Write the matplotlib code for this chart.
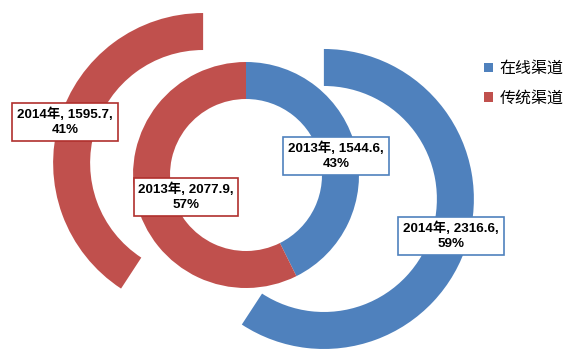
import matplotlib
matplotlib.use("Agg")
import matplotlib.pyplot as plt
from matplotlib.patches import Patch

plt.rcParams['font.family'] = ['Liberation Sans', 'Noto Sans CJK SC', 'DejaVu Sans']

categories = ["在线渠道", "传统渠道"]
years = ["2013年", "2014年"]
values_2013 = [1544.6, 2077.9]
values_2014 = [2316.6, 1595.7]
colors = ["#4F81BD", "#C0504D"]
edge_colors = ["#4F81BD", "#B0302D"]

W, H = 569, 361
fig = plt.figure(figsize=(W / 100, H / 100), dpi=100)
ax = fig.add_axes([0, 0, 1, 1])

# inner ring: 2013
ax.pie(values_2013, colors=colors, startangle=90, counterclock=False,
       radius=113, center=(246, H - 175), wedgeprops=dict(width=37, linewidth=0))
# outer ring: 2014 (exploded)
ax.pie(values_2014, colors=colors, startangle=90, counterclock=False,
       radius=150, center=(263.5, H - 181), explode=[63, 63],
       wedgeprops=dict(width=37, linewidth=0))

ax.set_xlim(0, W)
ax.set_ylim(0, H)
ax.set_aspect('auto')
ax.axis('off')

def label(year, val, vals, x, y, ec):
    pct = round(val / sum(vals) * 100)
    ax.text(x, H - y, f"{year}, {val},\n{pct}%", ha='center', va='center',
            fontsize=9.6, fontweight='bold', linespacing=1.3,
            bbox=dict(boxstyle='square,pad=0.35', fc='white', ec=ec, lw=1.2))

label(years[1], values_2014[1], values_2014, 65, 122, edge_colors[1])
label(years[0], values_2013[1], values_2013, 186, 197, edge_colors[1])
label(years[0], values_2013[0], values_2013, 336, 156, edge_colors[0])
label(years[1], values_2014[0], values_2014, 451, 236, edge_colors[0])

handles = [Patch(facecolor=c, edgecolor='none', label=l) for c, l in zip(colors, categories)]
leg = ax.legend(handles=handles, loc='upper left', bbox_to_anchor=(484 / W, 1 - 61 / H),
                frameon=False, fontsize=11.5, handlelength=0.55, handleheight=0.55,
                handletextpad=0.4, labelspacing=0.9, borderaxespad=0, borderpad=0)

fig.savefig("out.png", dpi=100)
